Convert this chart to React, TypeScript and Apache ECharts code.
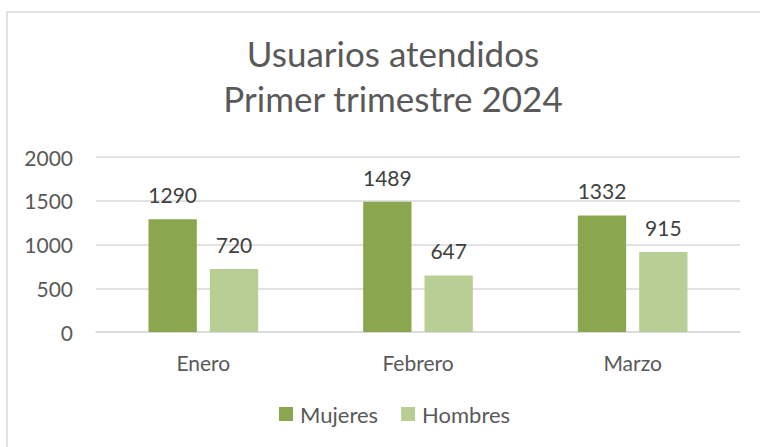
import React, { useEffect, useRef } from "react";
import * as echarts from "echarts";

const titleLines = ["Usuarios atendidos", "Primer trimestre 2024"];
const categories = ["Enero", "Febrero", "Marzo"];
const seriesNames = ["Mujeres", "Hombres"];
const mujeres = [1290, 1489, 1332];
const hombres = [720, 647, 915];
const yTicks = { min: 0, max: 2000, interval: 500 };

const FONT = "Lato, 'Noto Sans', sans-serif";

export default function App() {
  const ref = useRef<HTMLDivElement>(null);
  useEffect(() => {
    if (!ref.current) return;
    const chart = echarts.init(ref.current, null, { renderer: "svg" });
    const labelStyle = {
      show: true,
      position: "top" as const,
      distance: 14,
      color: "#404040",
      fontSize: 21,
      fontFamily: FONT,
    };
    chart.setOption({
      animation: false,
      backgroundColor: "#ffffff",
      textStyle: { fontFamily: FONT },
      graphic: [
        {
          type: "rect",
          shape: { x: 7, y: 12, width: 800, height: 500 },
          style: { fill: "none", stroke: "#d9d9d9", lineWidth: 1.5 },
          silent: true,
          z: -1,
        },
      ],
      title: {
        text: titleLines.join("\n"),
        left: 388,
        textAlign: "center",
        top: 25,
        textStyle: {
          color: "#595959",
          fontSize: 35,
          fontWeight: "normal",
          fontFamily: FONT,
          lineHeight: 45,
        },
      },
      legend: {
        data: seriesNames,
        bottom: 17,
        left: 274,
        itemWidth: 14,
        itemHeight: 14,
        itemGap: 23,
        icon: "rect",
        textStyle: { color: "#595959", fontSize: 22, fontFamily: FONT, padding: [0, 0, 0, 2] },
      },
      grid: { left: 96, right: 20, top: 157, bottom: 115, containLabel: false },
      xAxis: {
        type: "category",
        data: categories,
        axisLine: { show: true, lineStyle: { color: "#d9d9d9", width: 1.5 } },
        axisTick: { show: false },
        axisLabel: { color: "#595959", fontSize: 21, margin: 20, fontFamily: FONT },
      },
      yAxis: {
        type: "value",
        min: yTicks.min,
        max: yTicks.max,
        interval: yTicks.interval,
        axisLine: { show: false },
        axisTick: { show: false },
        splitLine: { lineStyle: { color: "#d9d9d9", width: 1.5 } },
        axisLabel: {
          color: "#595959",
          fontSize: 21,
          margin: 23,
          fontFamily: FONT,
          formatter: (v: number) => String(v),
        },
      },
      series: [
        {
          name: seriesNames[0],
          type: "bar",
          data: mujeres,
          barWidth: "22.5%",
          barGap: "27%",
          itemStyle: { color: "#8aa64e" },
          label: labelStyle,
        },
        {
          name: seriesNames[1],
          type: "bar",
          data: hombres,
          barWidth: "22.5%",
          itemStyle: { color: "#b8ce95" },
          label: labelStyle,
        },
      ],
    });
    return () => chart.dispose();
  }, []);
  return (
    <div
      ref={ref}
      style={{ position: "absolute", left: 0, top: 0, width: 760, height: 447 }}
    />
  );
}
